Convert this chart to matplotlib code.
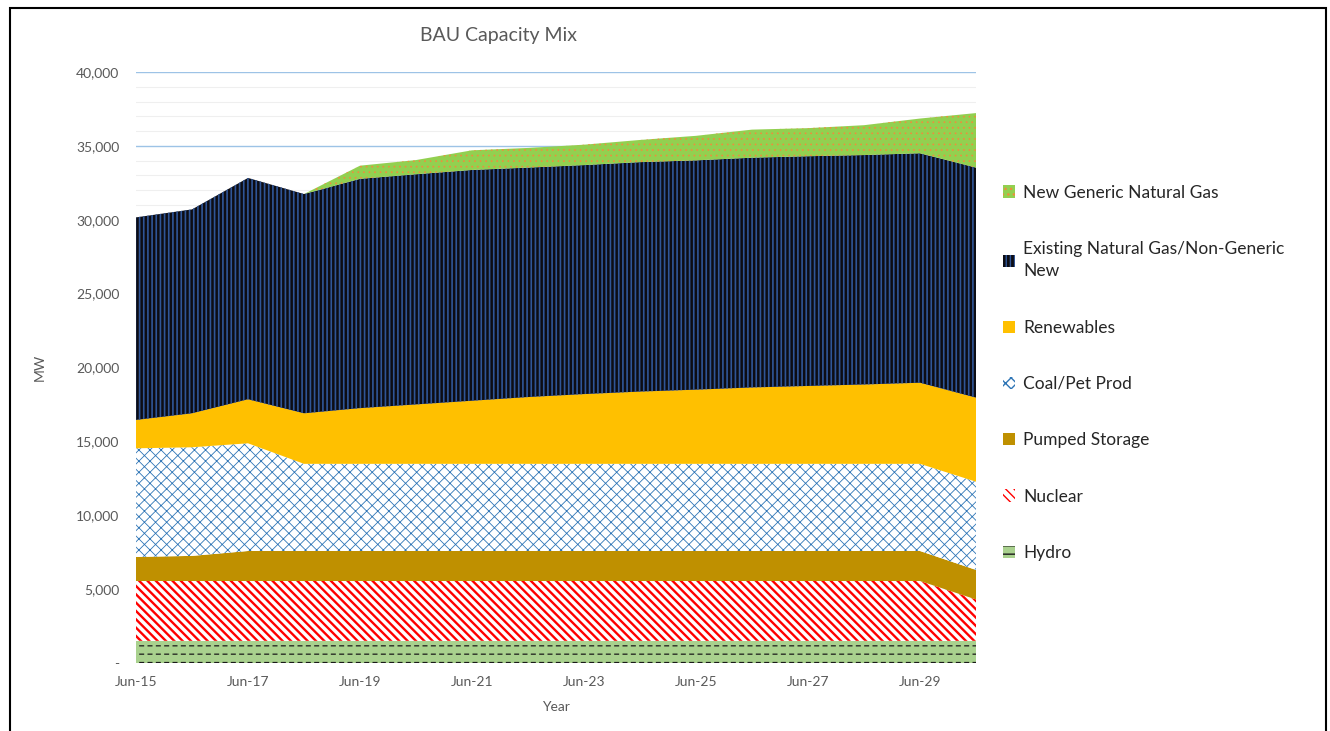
import numpy as np
import matplotlib.pyplot as plt
from matplotlib.patches import Rectangle
from matplotlib.ticker import FuncFormatter, MultipleLocator

plt.rcParams['font.family'] = ['Lato', 'DejaVu Sans']

# Data (MW)
years = [2015, 2016, 2017, 2018, 2019, 2020, 2021, 2022,
         2023, 2024, 2025, 2026, 2027, 2028, 2029, 2030]
hydro = [1500, 1500, 1500, 1500, 1500, 1500, 1500, 1500,
         1500, 1500, 1500, 1500, 1500, 1500, 1500, 1500]
nuclear = [4050, 4050, 4050, 4050, 4050, 4050, 4050, 4050,
           4050, 4050, 4050, 4050, 4050, 4050, 4050, 2800]
pumped = [1630, 1700, 2030, 2030, 2030, 2030, 2030, 2030,
          2030, 2030, 2030, 2030, 2030, 2030, 2030, 2000]
coal = [7350, 7350, 7290, 5900, 5900, 5900, 5900, 5900,
        5900, 5900, 5900, 5900, 5900, 5900, 5900, 5970]
renewables = [1920, 2300, 2980, 3420, 3770, 4020, 4270, 4520,
              4720, 4890, 5020, 5170, 5270, 5370, 5490, 5690]
existing_ng = [13710, 13800, 14980, 14840, 15520, 15580, 15620, 15530,
               15500, 15530, 15520, 15550, 15550, 15530, 15530, 15570]
new_ng = [0, 0, 0, 0, 890, 960, 1330, 1330,
          1380, 1500, 1660, 1900, 1900, 2020, 2350, 3690]

tick_years = [2015, 2017, 2019, 2021, 2023, 2025, 2027, 2029]
tick_labels = ['Jun-15', 'Jun-17', 'Jun-19', 'Jun-21',
               'Jun-23', 'Jun-25', 'Jun-27', 'Jun-29']

layers = [
    # label, values, face, hatch, hatch colour, hatch width
    ('Hydro', hydro, '#A9D18E', '--', '#1a1a1a', 0.9),
    ('Nuclear', nuclear, 'white', '\\\\\\\\', '#FF0000', 1.7),
    ('Pumped Storage', pumped, '#BF9000', None, 'none', 1.0),
    ('Coal/Pet Prod', coal, 'white', 'xxx', '#2E75B6', 0.6),
    ('Renewables', renewables, '#FFC000', None, 'none', 1.0),
    ('Existing Natural Gas/Non-Generic\nNew', existing_ng, '#0D0D14', '||||', '#2F5597', 1.2),
    ('New Generic Natural Gas', new_ng, '#92D050', '...', '#F08C3C', 0.5),
]

fig = plt.figure(figsize=(13.3, 7.31), dpi=100)
ax = fig.add_axes([136 / 1330, 1 - 663 / 731, (976 - 136) / 1330, (663 - 72) / 731])

x = np.array(years)
base = np.zeros(len(years))
handles = []
for label, vals, face, hatch, hc, hlw in layers:
    top = base + np.array(vals)
    with plt.rc_context({'hatch.linewidth': hlw}):
        coll = ax.fill_between(x, base, top, facecolor=face, edgecolor=hc,
                               hatch=hatch, linewidth=0, label=label, zorder=2)
    if hasattr(coll, 'set_hatch_linewidth'):
        coll.set_hatch_linewidth(hlw)
    if label == 'Hydro':
        # break the hydro lines into dashes
        with plt.rc_context({'hatch.linewidth': 2.4}):
            brk = ax.fill_between(x, base, top, facecolor='none', edgecolor='#A9D18E',
                                  hatch='||', linewidth=0, zorder=2)
        if hasattr(brk, 'set_hatch_linewidth'):
            brk.set_hatch_linewidth(2.4)
    handles.append(coll)
    base = top

ax.set_xlim(2015, 2030)
ax.set_ylim(0, 40000)
ax.set_xticks(tick_years)
ax.set_xticklabels(tick_labels)
ax.yaxis.set_major_locator(MultipleLocator(5000))
ax.yaxis.set_minor_locator(MultipleLocator(1000))
ax.yaxis.set_major_formatter(FuncFormatter(lambda v, p: '-' if v == 0 else f'{v:,.0f}'))
ax.grid(axis='y', which='major', color='#9DC3E6', linewidth=1.0, zorder=0)
ax.grid(axis='y', which='minor', color='#EFEFEF', linewidth=0.8, zorder=0)
ax.set_axisbelow(True)
ax.tick_params(axis='both', which='both', length=0, labelsize=10, labelcolor='#595959')
ax.tick_params(axis='y', pad=12)
ax.tick_params(axis='x', pad=9)
for s in ax.spines.values():
    s.set_visible(False)

ax.set_xlabel('Year', fontsize=10, color='#595959', labelpad=10)
ax.set_ylabel('MW', fontsize=10, color='#595959', labelpad=22)

fig.text(498 / 1330, 1 - 36 / 731, 'BAU Capacity Mix', fontsize=14, color='#595959',
         ha='center', va='center')

leg = fig.legend(handles[::-1], [h.get_label() for h in handles[::-1]],
                 loc='upper left', bbox_to_anchor=(987 / 1330, 1 - 169 / 731),
                 frameon=False, fontsize=12.5, labelspacing=2.32, handlelength=0.7,
                 handleheight=0.7, handletextpad=0.5, labelcolor='#262626')
for t in leg.get_texts():
    t.set_linespacing(1.5)

fig.patches.append(Rectangle((10 / 1330, -0.05), 1316 / 1330, 1.05 - 8 / 731,
                             transform=fig.transFigure, fill=False,
                             edgecolor='black', linewidth=1.5))

fig.savefig('out.png', dpi=100)
